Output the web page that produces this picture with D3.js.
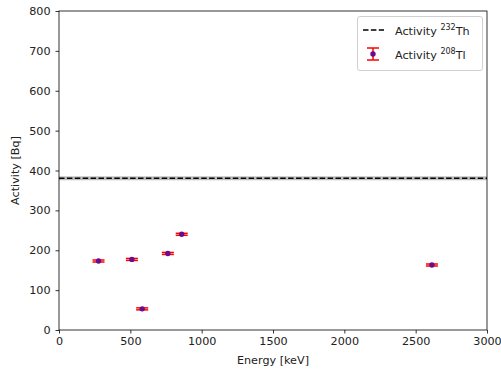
<!DOCTYPE html>
<html><head><meta charset="utf-8">
<script src="https://cdn.jsdelivr.net/npm/d3@7"></script>
<style>body{margin:0;background:#fff;} text{font-family:"DejaVu Sans",sans-serif;}</style>
</head><body>
<svg id="c" width="501" height="371"></svg>
<script>
const energies = [277, 511, 583, 763, 860, 2614];
const activities = [173, 177, 53, 192, 240, 163];
const activityErr = [2.5, 2.5, 2.5, 2.5, 2.5, 2.5];
const thActivity = 380.5;
const thBand = [375.5, 385.5];
const xTicks = [0, 500, 1000, 1500, 2000, 2500, 3000];
const yTicks = [0, 100, 200, 300, 400, 500, 600, 700, 800];

const FS = 11.2;
const svg = d3.select("#c");
const L = 59, R = 487, T = 11, B = 330;
const x = d3.scaleLinear().domain([0, 3000]).range([L, R]);
const y = d3.scaleLinear().domain([0, 800]).range([B, T]);

// band
svg.append("rect").attr("x", L).attr("width", R - L)
  .attr("y", y(thBand[1])).attr("height", y(thBand[0]) - y(thBand[1]))
  .attr("fill", "#808080").attr("opacity", 0.5);
svg.append("line").attr("x1", L).attr("x2", R).attr("y1", y(thActivity)).attr("y2", y(thActivity))
  .attr("stroke", "#000").attr("stroke-width", 1.5).attr("stroke-dasharray", "5.5,2.4");

// error bars
const g = svg.append("g");
energies.forEach((e, i) => {
  const cx = x(e), y1 = y(activities[i] - activityErr[i]), y2 = y(activities[i] + activityErr[i]);
  g.append("line").attr("x1", cx).attr("x2", cx).attr("y1", y1).attr("y2", y2).attr("stroke", "red").attr("stroke-width", 1.5);
  [y1, y2].forEach(yy => g.append("line").attr("x1", cx - 6).attr("x2", cx + 6).attr("y1", yy).attr("y2", yy).attr("stroke", "red").attr("stroke-width", 1.5));
  g.append("circle").attr("cx", cx).attr("cy", y(activities[i])).attr("r", 2.7).attr("fill", "#6a0a8c");
});

// axes
const xa = svg.append("g").attr("transform", `translate(0,${B})`)
  .call(d3.axisBottom(x).tickValues(xTicks).tickSize(3.5).tickPadding(4).tickFormat(d3.format("d")));
const ya = svg.append("g").attr("transform", `translate(${L},0)`)
  .call(d3.axisLeft(y).tickValues(yTicks).tickSize(3.5).tickPadding(5).tickFormat(d3.format("d")));
[xa, ya].forEach(a => {
  a.select(".domain").remove();
  a.selectAll("line").attr("stroke", "#000").attr("stroke-width", 0.8);
  a.selectAll("text").attr("font-size", FS).attr("fill", "#222").style("font-family", "DejaVu Sans");
});
svg.append("rect").attr("x", L).attr("y", T).attr("width", R - L).attr("height", B - T)
  .attr("fill", "none").attr("stroke", "#000").attr("stroke-width", 0.8);

svg.append("text").attr("x", (L + R) / 2).attr("y", 364).attr("text-anchor", "middle")
  .attr("font-size", FS).attr("fill", "#222").text("Energy [keV]");
svg.append("text").attr("transform", `translate(19,${(T + B) / 2}) rotate(-90)`).attr("text-anchor", "middle")
  .attr("font-size", FS).attr("fill", "#222").text("Activity [Bq]");

// legend
const lg = svg.append("g");
lg.append("rect").attr("x", 357.5).attr("y", 16.5).attr("width", 125).attr("height", 54).attr("rx", 2.5)
  .attr("fill", "#fff").attr("fill-opacity", 0.8).attr("stroke", "#d0d0d0").attr("stroke-width", 1);
lg.append("line").attr("x1", 363).attr("x2", 384).attr("y1", 30).attr("y2", 30)
  .attr("stroke", "#000").attr("stroke-width", 1.5).attr("stroke-dasharray", "5.5,2.4");
const t1 = lg.append("text").attr("x", 395).attr("y", 34.5).attr("font-size", FS).attr("fill", "#222");
t1.append("tspan").text("Activity ");
t1.append("tspan").attr("dy", -4.5).attr("font-size", 8).text("232");
t1.append("tspan").attr("dy", 4.5).text("Th");
lg.append("line").attr("x1", 373).attr("x2", 373).attr("y1", 48).attr("y2", 60).attr("stroke", "red").attr("stroke-width", 1.5);
[48, 60].forEach(yy => lg.append("line").attr("x1", 367).attr("x2", 379).attr("y1", yy).attr("y2", yy).attr("stroke", "red").attr("stroke-width", 1.5));
lg.append("circle").attr("cx", 373).attr("cy", 54).attr("r", 2.7).attr("fill", "#6a0a8c");
const t2 = lg.append("text").attr("x", 395).attr("y", 58.5).attr("font-size", FS).attr("fill", "#222");
t2.append("tspan").text("Activity ");
t2.append("tspan").attr("dy", -4.5).attr("font-size", 8).text("208");
t2.append("tspan").attr("dy", 4.5).text("Tl");
</script>
</body></html>
